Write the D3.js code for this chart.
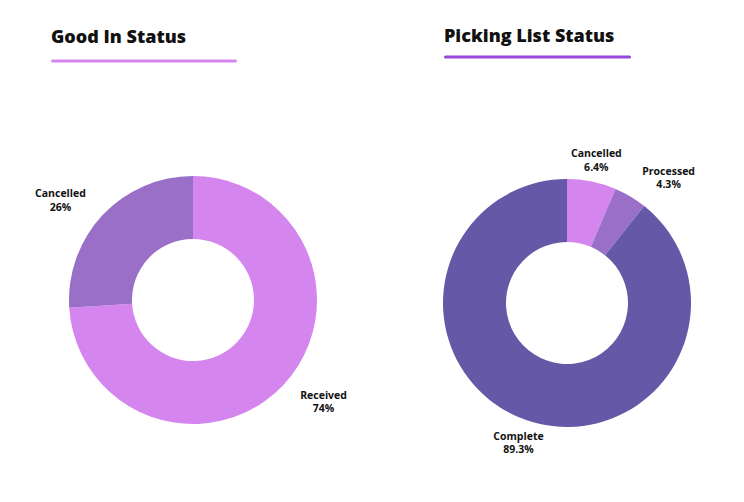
<!DOCTYPE html>
<html>
<head>
<meta charset="utf-8">
<script src="https://cdn.jsdelivr.net/npm/d3@7"></script>
<style>
  body { margin: 0; background: #fff; }
  svg { display: block; font-family: "Open Sans", "DejaVu Sans", sans-serif; }
</style>
</head>
<body>
<svg id="chart" width="744" height="502"></svg>
<script>
// data
const goodInLabels = ["Received", "Cancelled"];
const goodInValues = [74, 26];
const pickingLabels = ["Cancelled", "Processed", "Complete"];
const pickingValues = [6.4, 4.3, 89.3];

const charts = [
  {
    title: "Good In Status",
    labels: goodInLabels,
    values: goodInValues,
    colors: ["#d585ee", "#9a6fc8"],
    accent: "#d585ee",
    cx: 193, cy: 300,
    tx: 51, ty: 43, lineY: 61, lineW: 186
  },
  {
    title: "Picking List Status",
    labels: pickingLabels,
    values: pickingValues,
    colors: ["#d585ee", "#9a6fc8", "#6558a6"],
    accent: "#9747d9",
    cx: 567, cy: 303,
    tx: 444, ty: 42, lineY: 57, lineW: 187
  }
];

const outerR = 124, innerR = 61, labelR = 147;
const svg = d3.select("#chart");

charts.forEach(c => {
  // title + underline
  svg.append("text")
    .attr("x", c.tx)
    .attr("y", c.ty)
    .attr("font-size", 18)
    .attr("font-weight", 800)
    .attr("fill", "#111")
    .text(c.title);

  svg.append("line")
    .attr("x1", c.tx + 1.5)
    .attr("x2", c.tx + c.lineW - 1.5)
    .attr("y1", c.lineY)
    .attr("y2", c.lineY)
    .attr("stroke", c.accent)
    .attr("stroke-width", 3)
    .attr("stroke-linecap", "round");

  const data = c.values.map((v, i) => ({ label: c.labels[i], value: v, color: c.colors[i] }));
  const pie = d3.pie().sort(null).value(d => d.value);
  const arc = d3.arc().innerRadius(innerR).outerRadius(outerR);
  const labelArc = d3.arc().innerRadius(labelR).outerRadius(labelR);

  const g = svg.append("g").attr("transform", `translate(${c.cx},${c.cy})`);
  const arcs = pie(data);

  g.selectAll("path")
    .data(arcs)
    .join("path")
    .attr("d", arc)
    .attr("fill", d => d.data.color);

  const lbl = g.selectAll("text.lbl")
    .data(arcs)
    .join("text")
    .attr("class", "lbl")
    .attr("font-size", 10.5)
    .attr("font-weight", 700)
    .attr("fill", "#111")
    .attr("text-anchor", "middle");

  lbl.append("tspan").attr("x", 0).attr("dy", "-0.2em").text(d => d.data.label);
  lbl.append("tspan").attr("x", 0).attr("dy", "1.3em").text(d => d.data.value + "%");

  // push the centred label block away from the ring, except near top/bottom
  lbl.attr("transform", function(d) {
    const [x, y] = labelArc.centroid(d);
    const a = (d.startAngle + d.endAngle) / 2;
    const s = Math.sin(a);
    const w = this.getBBox().width;
    const dx = Math.abs(s) < 0.4 ? 0 : Math.sign(s) * w / 2;
    return `translate(${x + dx},${y})`;
  });
});
</script>
</body>
</html>
